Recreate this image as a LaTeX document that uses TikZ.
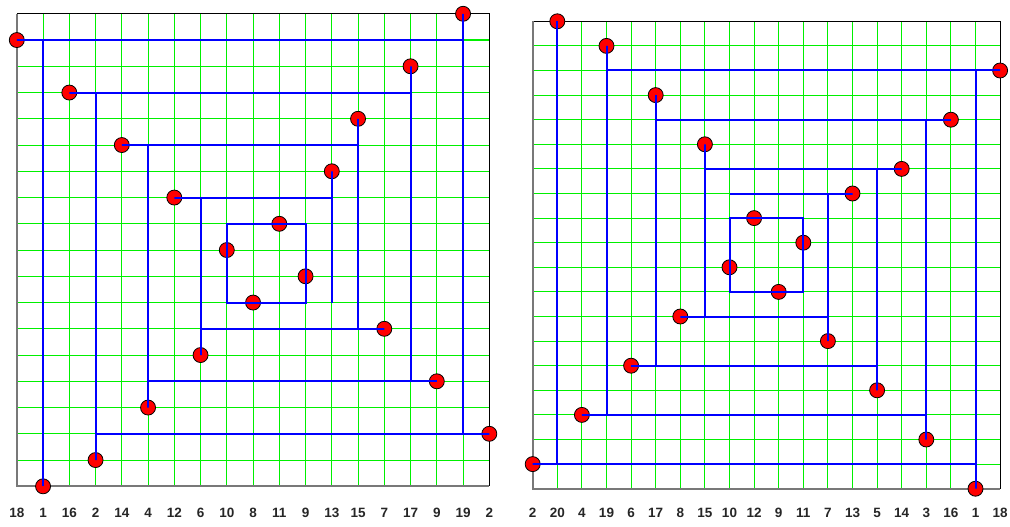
\documentclass[tikz,border=0pt]{standalone}
\usepackage{fontspec}
\setmainfont{Liberation Sans}
\definecolor{gridgreen}{RGB}{0,240,0}
\definecolor{axisgray}{RGB}{120,120,120}
\begin{document}
\begin{tikzpicture}[x=1pt,y=-1pt,
  gridline/.style={draw=gridgreen, line width=1.1pt},
  axisline/.style={draw=axisgray, line width=2pt},
  boxline/.style={draw=black, line width=1.2pt},
  dot/.style={circle, fill=red, draw=black, line width=0.8pt, minimum size=15pt, inner sep=0pt},
  spiral/.style={draw=blue, line width=2pt},
  lab/.style={font=\bfseries\fontsize{13.5}{15}\selectfont, inner sep=0pt, text=black!85}]
\useasboundingbox (0,0) rectangle (1010,527);
% ---------------- left panel ----------------
\begin{scope}[shift={(16.8,486.3)}, x=26.25pt, y=26.25pt]
  \foreach \i in {1,...,17} {
    \draw[gridline] (\i,0) -- (\i,18);
    \draw[gridline] (0,\i) -- (18,\i);
  }
  \draw[boxline] (0,18) -- (18,18) -- (18,0);
  \draw[axisline] (0,18) -- (0,0) -- (18,0);
  \foreach \x/\y in {0/17,17/18,1/0,18/2,2/15,15/16,3/1,16/4,4/13,13/14,5/3,14/6,6/11,12/12,7/5,10/10,8/9,11/8,9/7}
    \node[dot] (a\x-\y) at (\x,\y) {};
  \coordinate (aend) at (12,7);
  \draw[spiral] (a1-0.center) |- (a0-17.center) -| (a17-18.center) |- (a18-2.center)
    -| (a3-1.center) |- (a2-15.center) -| (a15-16.center) |- (a16-4.center)
    -| (a5-3.center) |- (a4-13.center) -| (a13-14.center) |- (a14-6.center)
    -| (a7-5.center) |- (a6-11.center) -| (a12-12.center) -- (aend);
  \draw[spiral] (a10-10.center) -| (a11-8.center) |- (a9-7.center) -| (a8-9.center) |- (a10-10.center);
  \foreach \t [count=\i from 0] in {18,1,16,2,14,4,12,6,10,8,11,9,13,15,7,17,9,19,2}
    \node[lab] (al\i) at (\i,-1.005) {\t};
\end{scope}
% ---------------- right panel ----------------
\begin{scope}[shift={(532.7,488.7)}, x=24.6pt, y=24.6pt]
  \foreach \i in {1,...,18} {
    \draw[gridline] (\i,0) -- (\i,19);
    \draw[gridline] (0,\i) -- (19,\i);
  }
  \draw[boxline] (0,19) -- (19,19) -- (19,0);
  \draw[axisline] (0,19) -- (0,0) -- (19,0);
  \foreach \x/\y in {1/19,0/1,18/0,19/17,3/18,2/3,16/2,17/15,5/16,4/5,14/4,15/13,7/14,6/7,12/6,13/12,9/11,11/10,8/9,10/8}
    \node[dot] (b\x-\y) at (\x,\y) {};
  \coordinate (bend) at (8,12);
  \draw[spiral] (b1-19.center) |- (b0-1.center) -| (b18-0.center) |- (b19-17.center)
    -| (b3-18.center) |- (b2-3.center) -| (b16-2.center) |- (b17-15.center)
    -| (b5-16.center) |- (b4-5.center) -| (b14-4.center) |- (b15-13.center)
    -| (b7-14.center) |- (b6-7.center) -| (b12-6.center) |- (b13-12.center) -- (bend);
  \draw[spiral] (b9-11.center) -| (b11-10.center) |- (b10-8.center) -| (b8-9.center) |- (b9-11.center);
  \foreach \t [count=\i from 0] in {2,20,4,19,6,17,8,15,10,12,9,11,7,13,5,14,3,16,1,18}
    \node[lab] (bl\i) at (\i,-0.976) {\t};
\end{scope}
\end{tikzpicture}
\end{document}
